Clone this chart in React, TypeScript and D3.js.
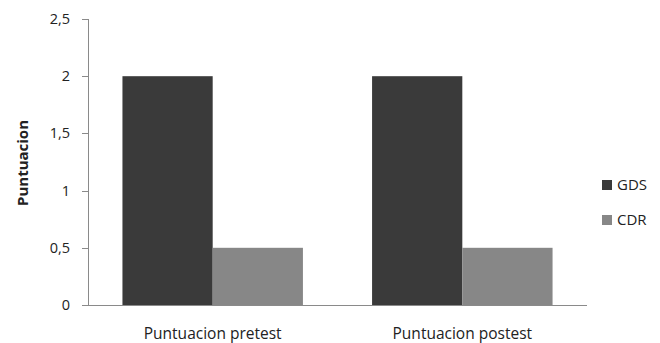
import React from "react";
import * as d3 from "d3";

const categories = ["Puntuacion pretest", "Puntuacion postest"];
const seriesNames = ["GDS", "CDR"];
const gdsValues = [2, 2];
const cdrValues = [0.5, 0.5];
const yTicks = [0, 0.5, 1, 1.5, 2, 2.5];
const colors = ["#3a3a3a", "#878787"];

const W = 660;
const H = 343;
const left = 88;
const right = 587;
const top = 19;
const bottom = 305;
const font = "'Open Sans', 'Noto Sans', sans-serif";

export default function App() {
  const y = d3.scaleLinear().domain([0, 2.5]).range([bottom, top]);
  const x0 = d3.scaleBand<string>().domain(categories).range([left, right]).paddingInner(0.277).paddingOuter(0.138);
  const x1 = d3.scaleBand<string>().domain(seriesNames).range([0, x0.bandwidth()]);
  const values = [gdsValues, cdrValues];
  const fmt = (v: number) => String(v).replace(".", ",");

  return (
    <svg width={W} height={H} style={{ position: "absolute", left: 0, top: 0 }}>
      <rect width={W} height={H} fill="#fff" />
      {/* y axis */}
      <line x1={left + 0.5} x2={left + 0.5} y1={top} y2={bottom} stroke="#8a8a8a" />
      {yTicks.map((t) => (
        <g key={t}>
          <line x1={left - 6} x2={left} y1={Math.round(y(t)) + 0.5} y2={Math.round(y(t)) + 0.5} stroke="#8a8a8a" />
          <text x={left - 18} y={y(t)} dy="0.35em" textAnchor="end" fontFamily={font} fontSize={14.5} fill="#222">
            {fmt(t)}
          </text>
        </g>
      ))}
      <text
        transform={`translate(23,${(top + bottom) / 2 + 1}) rotate(-90)`}
        textAnchor="middle"
        dy="0.35em"
        fontFamily={font}
        fontSize={15}
        fontWeight="bold"
        fill="#222"
      >
        Puntuacion
      </text>
      {/* bars */}
      {categories.map((c, i) => (
        <g key={c} transform={`translate(${x0(c)},0)`}>
          {seriesNames.map((s, j) => (
            <rect
              key={s}
              x={x1(s)}
              y={y(values[j][i])}
              width={x1.bandwidth()}
              height={y(0) - y(values[j][i])}
              fill={colors[j]}
            />
          ))}
          <text x={x0.bandwidth() / 2} y={339} textAnchor="middle" fontFamily={font} fontSize={15.5} fill="#222">
            {c}
          </text>
        </g>
      ))}
      {/* x axis baseline */}
      <line x1={left} x2={right} y1={bottom + 0.5} y2={bottom + 0.5} stroke="#8a8a8a" />
      {/* legend */}
      {seriesNames.map((s, j) => (
        <g key={s} transform={`translate(602,${185 + j * 35})`}>
          <rect x={0} y={-5} width={10} height={10} fill={colors[j]} />
          <text x={15} y={0} dy="0.35em" fontFamily={font} fontSize={15} fill="#222">
            {s}
          </text>
        </g>
      ))}
    </svg>
  );
}
